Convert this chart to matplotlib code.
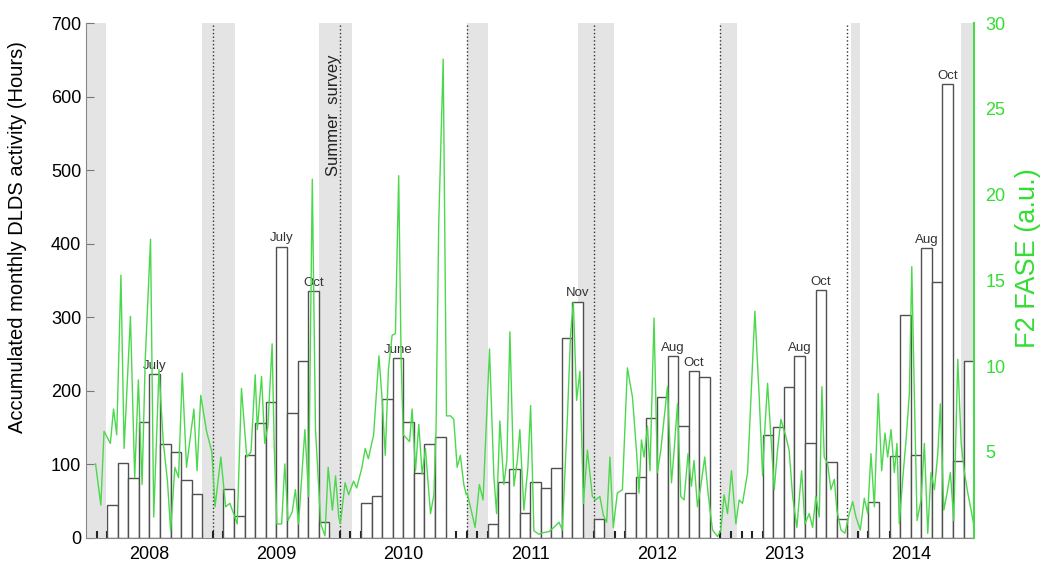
#coding:utf-8

import numpy as np
import matplotlib
matplotlib.use('Agg')
import matplotlib.pyplot as plt

plt.rcParams['font.family'] = ['Liberation Sans', 'DejaVu Sans']


#------------月度数据 (2008-2014, 84个月)------------#
years = ['2008', '2009', '2010', '2011', '2012', '2013', '2014']
dlds_hours = [0, 0, 45, 102, 81, 158, 222, 127, 116, 78, 60, 0,
              0, 66, 30, 113, 156, 184, 396, 170, 240, 335, 21, 0,
              0, 0, 47, 57, 189, 244, 158, 88, 127, 137, 0, 0,
              0, 0, 19, 76, 93, 33, 76, 67, 95, 272, 321, 0,
              25, 0, 0, 61, 82, 163, 191, 247, 152, 227, 218, 0,
              0, 0, 0, 0, 139, 151, 205, 247, 129, 337, 103, 26,
              0, 0, 48, 0, 111, 303, 113, 394, 348, 617, 104, 240]

label_months = [6, 18, 21, 29, 46, 55, 57, 67, 69, 79, 81]
label_texts = ['July', 'July', 'Oct', 'June', 'Nov', 'Aug', 'Oct', 'Aug', 'Oct', 'Aug', 'Oct']

# 冬季灰色区间 (以月为单位)
winter_start = [0, 11, 22, 36, 46.5, 59.95, 72.35, 82.8]
winter_end = [1.9, 14.1, 25.2, 38, 49.9, 61.6, 73.2, 84]

#------------F2 FASE 曲线------------#
fase_t = [0.9, 1.4, 1.7, 2.3, 2.6, 2.9, 3.3, 3.6, 4.2, 4.6, 4.95, 5.3, 5.6, 6.1, 6.4,
          6.9, 7.3, 7.7, 8.0, 8.4, 8.75, 9.1, 9.5, 10.2, 10.5, 10.85, 11.4, 11.9,
          12.2, 12.75, 13.2, 13.6, 13.9, 14.3, 14.7, 15.2, 15.6, 16.0, 16.2, 16.6,
          16.9, 17.2, 17.6, 17.8, 18.05, 18.5, 18.8, 19.1, 19.5, 19.8, 20.1, 20.7,
          21.05, 21.4, 21.7, 22.2, 22.6, 22.9, 23.3, 23.6, 23.9,
          24.05, 24.5, 24.84, 25.3, 25.6, 26.1, 26.4, 26.7, 27.2, 27.7, 28.0, 28.3,
          28.6, 28.95, 29.26, 29.57, 29.8, 30.0, 30.3, 30.6, 30.84, 31.16, 31.47,
          31.79, 32.1, 32.58, 32.9, 33.1, 33.36, 33.78, 34.09, 34.47, 34.78, 35.1,
          35.4, 35.73, 35.96,
          36.05, 36.5, 36.8, 37.2, 37.55, 38.16, 38.57, 38.83, 39.14, 39.52, 39.8,
          40.09, 40.47, 40.79, 41.03, 41.41, 41.79, 42.05, 42.36, 42.83, 43.3, 43.78,
          44.25, 44.73, 45.05, 45.52, 45.83, 46.09, 46.4, 46.71, 47.04, 47.42, 47.89,
          48.2, 48.6, 48.93, 49.24, 49.55, 49.87, 50.25, 50.73, 51.2, 51.68, 52.08,
          52.3, 52.53, 52.78, 53.1, 53.34, 53.72, 54.04, 54.36, 54.99, 55.37, 55.6,
          55.94, 56.25, 56.56, 56.94, 57.26, 57.5, 57.83, 58.14, 58.52, 58.83, 59.25,
          59.73,
          60.04, 60.35, 60.67, 61.05, 61.46, 61.77, 62.09, 62.57, 63.26, 63.67, 63.99,
          64.2, 64.46, 64.77, 65.09, 65.4, 65.72, 66.19, 66.5, 66.83, 67.23, 67.68,
          67.99, 68.4, 68.72, 69.03, 69.35, 69.6, 69.82, 70.14, 70.45, 70.77, 71.02,
          71.4, 71.78,
          72.19, 72.51, 72.82, 73.23, 73.61, 73.93, 74.24, 74.56, 74.93, 75.25, 75.57,
          75.82, 76.14, 76.45, 76.7, 76.92, 77.24, 77.56, 77.87, 78.1, 78.34, 78.6,
          78.98, 79.29, 79.61, 79.92, 80.24, 80.56, 80.8, 81.13, 81.44, 81.75, 82.07,
          82.45, 82.77, 83.08, 83.4, 83.71, 84.0]
fase_val = [4.3, 1.9, 6.2, 5.5, 7.5, 6.0, 15.3, 5.2, 12.9, 3.5, 9.2, 3.1, 10.4, 17.4, 1.2,
            9.8, 5.6, 3.3, 0.4, 4.1, 3.5, 9.6, 4.1, 7.5, 3.9, 8.3, 6.2, 5.0,
            1.8, 4.7, 1.8, 2.0, 1.5, 0.8, 8.7, 4.7, 5.0, 9.5, 6.3, 9.4,
            5.5, 6.5, 11.3, 5.3, 0.8, 0.8, 4.3, 1.0, 1.5, 2.8, 0.8, 6.3,
            2.4, 20.9, 6.3, 0.8, 0.1, 4.1, 1.6, 3.6, 1.2,
            0.8, 3.2, 2.5, 3.3, 2.9, 4.1, 5.2, 4.6, 6.0, 10.6, 8.1, 4.8,
            9.8, 11.8, 11.9, 21.1, 10.4, 6.0, 5.8, 5.6, 7.5, 3.9, 6.6,
            3.7, 5.2, 1.4, 2.5, 6.2, 18.4, 27.9, 7.1, 7.1, 6.9, 4.1,
            4.8, 3.1, 2.5,
            2.6, 1.4, 0.6, 3.1, 2.2, 11.0, 3.6, 1.4, 6.8, 3.1, 4.5,
            12.0, 3.0, 4.5, 6.3, 1.6, 4.1, 7.7, 0.4, 0.2, 0.3, 0.35,
            0.6, 0.9, 0.45, 6.9, 11.9, 13.7, 8.0, 9.7, 2.0, 5.1, 2.4,
            2.2, 2.4, 1.3, 0.9, 4.7, 0.6, 2.6, 2.8, 9.9, 8.2, 4.9,
            2.6, 5.7, 4.7, 6.5, 3.9, 12.8, 3.8, 5.1, 8.8, 3.2, 4.9,
            7.8, 2.4, 2.2, 4.9, 3.0, 4.5, 1.8, 3.0, 4.7, 2.6, 0.45,
            0.06,
            0.45, 2.5, 1.4, 3.9, 0.8, 2.2, 2.0, 3.8, 13.2, 8.2, 3.6,
            6.3, 9.0, 5.9, 2.8, 5.1, 6.9, 5.9, 5.1, 2.4, 0.6, 3.9,
            0.8, 1.4, 0.6, 2.4, 1.2, 8.8, 4.7, 4.3, 2.8, 3.4, 1.6,
            0.45, 0.26,
            1.4, 2.1, 1.2, 0.45, 2.3, 1.4, 4.9, 1.8, 8.4, 3.9, 6.1,
            4.7, 6.3, 3.8, 5.5, 0.8, 3.4, 5.7, 8.4, 15.8, 8.4, 1.0,
            2.2, 5.5, 0.25, 3.8, 2.8, 4.9, 7.8, 1.6, 2.6, 3.8, 1.0,
            10.4, 5.5, 3.8, 2.6, 1.6, 0.6]

green = '#4cd84c'
green_txt = '#33dd33'
edge = '#505050'


#---------------绘图---------------#
fig = plt.figure(figsize=(10.43, 5.63), dpi=100)
ax = fig.add_axes([0.0825, 0.045, 0.8515, 0.914])

for s, e in zip(winter_start, winter_end):
    ax.axvspan(s, e, color='#e4e4e4', lw=0, zorder=0)

for k in range(1, len(years)):
    ax.axvline(12 * k, color='#333333', ls=':', lw=1, zorder=1)

months = np.arange(len(dlds_hours))
hours = np.array(dlds_hours)
has = hours > 0
ax.bar(months[has], hours[has], width=1, align='edge', facecolor='white',
       edgecolor=edge, lw=1, zorder=2)

for m, txt in zip(label_months, label_texts):
    ax.text(m + 0.5, dlds_hours[m] + 3, txt, ha='center', va='bottom',
            fontsize=9.5, color='#333333', zorder=4)

ax.text(23.45, 657, 'Summer  survey', rotation=90, ha='center', va='top',
        fontsize=12, color='#222222')

ax.set_xlim(0, 84)
ax.set_ylim(0, 700)
ax.set_yticks(np.arange(0, 701, 100))
ax.set_xticks(np.arange(6, 84, 12))
ax.set_xticklabels(years)
ax.set_xticks(np.arange(1, 84), minor=True)
ax.tick_params(axis='x', which='major', length=0, labelsize=13, pad=6)
ax.tick_params(axis='x', which='minor', direction='in', length=5, width=1.5, color='#222222')
ax.tick_params(axis='y', direction='in', length=6, color='#777777', labelsize=13)
ax.set_ylabel('Accumulated monthly DLDS activity (Hours)', fontsize=14.5)
ax.yaxis.set_label_coords(-0.0665, 0.584)

for side in ['top', 'right']:
    ax.spines[side].set_visible(False)
for side in ['left', 'bottom']:
    ax.spines[side].set_color('#888888')

ax2 = ax.twinx()
ax2.plot(fase_t, fase_val, color=green, lw=1, zorder=5)
ax2.set_ylim(0, 30)
ax2.set_yticks(np.arange(5, 31, 5))
ax2.tick_params(axis='y', direction='in', length=0, colors=green_txt, labelsize=13, pad=8)
ax2.set_ylabel('F2 FASE (a.u.)', fontsize=19.5, color=green_txt)
ax2.yaxis.set_label_coords(1.046, 0.544)
for side in ['top', 'left', 'bottom']:
    ax2.spines[side].set_visible(False)
ax2.spines['right'].set_color(green)
ax2.spines['right'].set_linewidth(1.5)

plt.savefig('out.png', dpi=100)
